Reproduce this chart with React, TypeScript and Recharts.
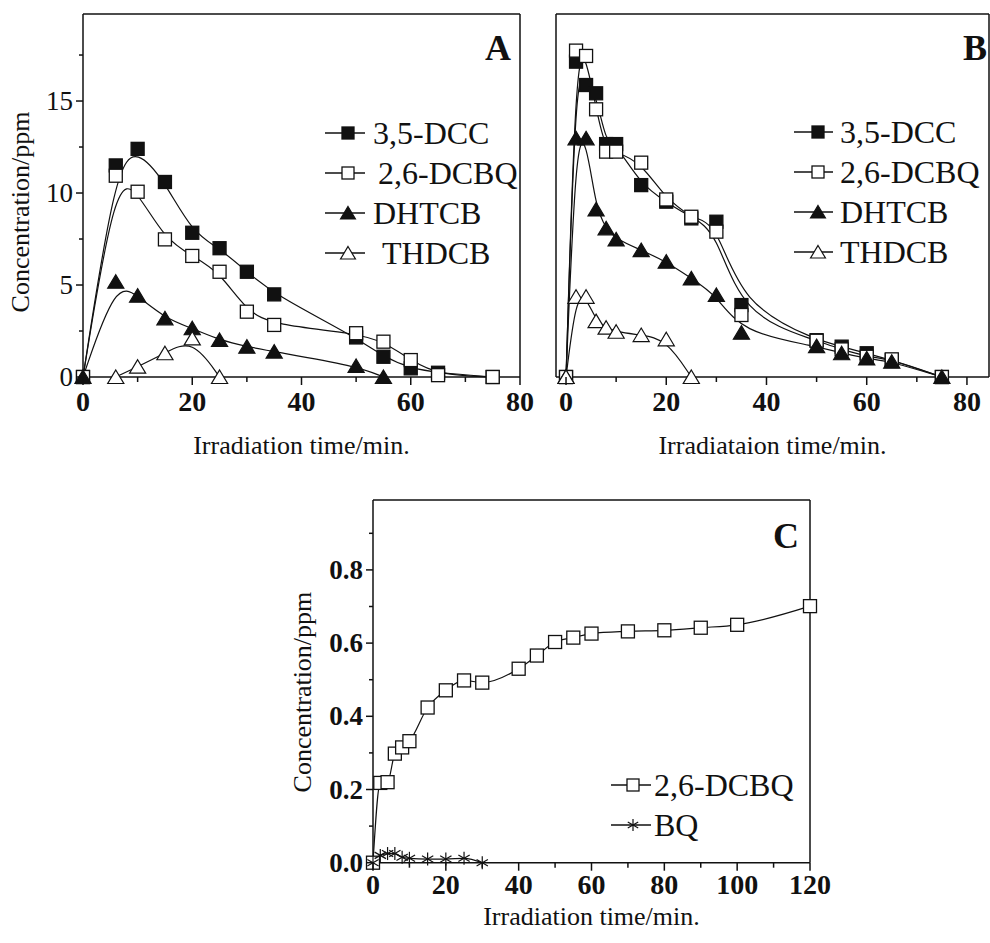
import React from "react";
import { LineChart, Line, XAxis, YAxis, ReferenceLine, Legend } from "recharts";

const FONT = '"Liberation Serif", "Times New Roman", serif';
const INK = "#111";

// panel A: irradiation of 3,5-DCC
const timesA = [0, 6, 10, 15, 20, 25, 30, 35, 50, 55, 60, 65, 75];
const dccA = [0, 11.5, 12.4, 10.6, 7.84, 7.0, 5.72, 4.49, 2.15, 1.1, 0.47, 0.23, 0];
const dcbqA = [0, 10.94, 10.07, 7.48, 6.58, 5.72, 3.55, 2.83, 2.38, 1.92, 0.92, 0.1, 0];
const dhtcbA = [0, 5.18, 4.42, 3.19, 2.65, 2.01, 1.65, 1.38, 0.6, 0, null, null, null];
const thdcbA = [null, 0, 0.56, 1.29, 2.1, 0, null, null, null, null, null, null, null];

// panel B
const timesB = [0, 2, 4, 6, 8, 10, 15, 20, 25, 30, 35, 50, 55, 60, 65, 75];
const dccB = [0, 17.14, 15.87, 15.42, 12.66, 12.66, 10.43, 9.53, 8.62, 8.44, 3.91, 2.0, 1.65, 1.29, 0.92, 0];
const dcbqB = [0, 17.74, 17.45, 14.55, 12.25, 12.25, 11.65, 9.65, 8.71, 7.9, 3.37, 1.97, 1.5, 1.1, 0.96, 0];
const dhtcbB = [0, 12.97, 12.97, 9.11, 8.08, 7.48, 6.9, 6.27, 5.36, 4.46, 2.41, 1.68, 1.29, 1.01, 0.83, 0];
const thdcbB = [0, 4.36, 4.36, 3.04, 2.68, 2.46, 2.28, 2.05, 0, null, null, null, null, null, null, null];

const namesAB = ["3,5-DCC", "2,6-DCBQ", "DHTCB", "THDCB"];
const xTicksAB = [0, 10, 20, 30, 40, 50, 60, 70, 80];
const yTicksA = [0, 2.5, 5, 7.5, 10, 12.5, 15, 17.5];

// panel C
const timesC = [0, 2, 4, 6, 8, 10, 15, 20, 25, 30, 40, 45, 50, 55, 60, 70, 80, 90, 100, 120];
const dcbqC = [0, 0.218, 0.22, 0.298, 0.315, 0.332, 0.424, 0.471, 0.498, 0.492, 0.53, 0.566, 0.603, 0.615, 0.626, 0.632, 0.635, 0.642, 0.65, 0.701];
const timesBQ = [0, 2, 4, 6, 8, 10, 15, 20, 25, 30];
const bqC = [0, 0.02, 0.025, 0.025, 0.015, 0.012, 0.01, 0.01, 0.012, 0];
const namesC = ["2,6-DCBQ", "BQ"];
const xTicksC = [0, 10, 20, 30, 40, 50, 60, 70, 80, 90, 100, 110, 120];
const yTicksC = [0, 0.1, 0.2, 0.3, 0.4, 0.5, 0.6, 0.7, 0.8, 0.9];

const pairs = (ts: number[], vs: (number | null)[]) =>
  ts.map((t, i) => ({ t, v: vs[i] })).filter((d) => d.v !== null && d.v !== undefined);

type Kind = "sqFill" | "sqOpen" | "triFill" | "triOpen" | "star";

function Marker({ kind, cx, cy, s = 13 }: { kind: Kind; cx?: number; cy?: number; s?: number }) {
  if (cx == null || cy == null) return null;
  const h = s / 2;
  if (kind === "sqFill" || kind === "sqOpen") {
    return (
      <rect x={cx - h} y={cy - h} width={s} height={s}
        fill={kind === "sqFill" ? INK : "#fff"} stroke={INK} strokeWidth={1.3} />
    );
  }
  if (kind === "triFill" || kind === "triOpen") {
    const w = s * 0.62;
    const pts = `${cx},${cy - h - 0.5} ${cx + w},${cy + h} ${cx - w},${cy + h}`;
    return <polygon points={pts} fill={kind === "triFill" ? INK : "#fff"} stroke={INK} strokeWidth={1.2} />;
  }
  const r = s * 0.5;
  const dx = r * 0.87;
  const dy = r * 0.5;
  return (
    <g stroke={INK} strokeWidth={1.2}>
      <line x1={cx} y1={cy - r} x2={cx} y2={cy + r} />
      <line x1={cx - dx} y1={cy - dy} x2={cx + dx} y2={cy + dy} />
      <line x1={cx - dx} y1={cy + dy} x2={cx + dx} y2={cy - dy} />
    </g>
  );
}

const dotOf = (kind: Kind) => (p: any) => <Marker key={`${kind}-${p.index}`} kind={kind} cx={p.cx} cy={p.cy} />;

const isMajor = (v: number, step: number) => Math.abs(v / step - Math.round(v / step)) < 1e-6;

const bottomTick = (step: number, fmt: (v: number) => string, size: number, base: number) => (p: any) => {
  const v = p.payload.value;
  const major = isMajor(v, step);
  return (
    <g>
      <line x1={p.x} y1={p.y} x2={p.x} y2={p.y + (major ? 8 : 5)} stroke={INK} strokeWidth={1.5} />
      {major && (
        <text x={p.x} y={p.y + base} textAnchor="middle" fontFamily={FONT} fontSize={size} fontWeight="bold" fill={INK}>
          {fmt(v)}
        </text>
      )}
    </g>
  );
};

const topTick = (p: any) => (
  <line x1={p.x} y1={p.y} x2={p.x} y2={p.y + 5} stroke={INK} strokeWidth={1.3} />
);

const leftTick = (step: number, fmt: (v: number) => string, bold: boolean, size: number) => (p: any) => {
  const v = p.payload.value;
  const major = isMajor(v, step);
  return (
    <g>
      <line x1={p.x} y1={p.y} x2={p.x - (major ? 7 : 4)} y2={p.y} stroke={INK} strokeWidth={1.5} />
      {major && (
        <text x={p.x - 10} y={p.y + size * 0.34} textAnchor="end" fontFamily={FONT} fontSize={size}
          fontWeight={bold ? "bold" : "normal"} fill={INK}>
          {fmt(v)}
        </text>
      )}
    </g>
  );
};

const xTitle = (text: string, dy: number) => (p: any) => {
  const vb = p.viewBox;
  return (
    <text x={vb.x + vb.width / 2} y={vb.y + dy} textAnchor="middle" fontFamily={FONT} fontSize={26} fill={INK}>
      {text}
    </text>
  );
};

const yTitle = (text: string, dx: number, dy: number) => (p: any) => {
  const vb = p.viewBox;
  const x = vb.x + dx;
  const y = vb.y + vb.height / 2 + dy;
  return (
    <text transform={`translate(${x},${y}) rotate(-90)`} textAnchor="middle" fontFamily={FONT} fontSize={26} fill={INK}>
      {text}
    </text>
  );
};

// legend rows follow the series order given in `names`
const legendOf = (
  names: string[], kinds: Record<string, Kind>, lineW: number, markAt: number, gap: number,
  indent: Record<string, number> = {},
) => () => (
  <div style={{ fontFamily: FONT, fontSize: 32, color: INK }}>
    {names.map((n) => (
      <div key={n} style={{ display: "flex", alignItems: "center", height: 40, lineHeight: "40px", whiteSpace: "nowrap" }}>
        <svg width={lineW} height={40}>
          <line x1={0} y1={20} x2={lineW} y2={20} stroke={INK} strokeWidth={1.3} />
          <Marker kind={kinds[n]} cx={markAt} cy={20} s={12} />
        </svg>
        <span style={{ marginLeft: gap + (indent[n] || 0) }}>{n}</span>
      </div>
    ))}
  </div>
);

const kindsAB: Record<string, Kind> = {
  "3,5-DCC": "sqFill",
  "2,6-DCBQ": "sqOpen",
  DHTCB: "triFill",
  THDCB: "triOpen",
};
const kindsC: Record<string, Kind> = { "2,6-DCBQ": "sqOpen", BQ: "star" };

const axisLine = { stroke: INK, strokeWidth: 1.5 };
const num = (v: number) => String(v);
const dec = (v: number) => v.toFixed(1);

function PanelAB({ which }: { which: "A" | "B" }) {
  const isA = which === "A";
  const ts = isA ? timesA : timesB;
  const series = isA ? [dccA, dcbqA, dhtcbA, thdcbA] : [dccB, dcbqB, dhtcbB, thdcbB];
  const xMax = isA ? 80 : 84.4;
  const xMin = isA ? 0 : -2;
  return (
    <LineChart width={isA ? 540 : 450} height={460}
      margin={isA ? { top: 13, right: 20, bottom: 82, left: 82 } : { top: 13, right: 1, bottom: 82, left: 15 }}>
      <XAxis xAxisId="b" type="number" dataKey="t" domain={[xMin, xMax]} ticks={xTicksAB} interval={0}
        height={1} tickSize={0} tickMargin={0} tickLine={false} axisLine={axisLine}
        tick={bottomTick(20, num, 28, 34)}
        label={{ content: xTitle(isA ? "Irradiation time/min." : "Irradiataion time/min.", 77) }} />
      <XAxis xAxisId="top" orientation="top" type="number" domain={[xMin, xMax]} ticks={xTicksAB} interval={0}
        allowDataOverflow height={1} tickSize={0} tickMargin={0} tickLine={false} axisLine={axisLine} tick={topTick} />
      <YAxis yAxisId="l" type="number" domain={[0, 19.73]} ticks={isA ? yTicksA : [0]} interval={0}
        width={1} tickSize={0} tickMargin={0} tickLine={false} axisLine={axisLine}
        tick={isA ? leftTick(5, num, false, 27) : false}
        label={isA ? { content: yTitle("Concentration/ppm", -53.5, 16.5) } : undefined} />
      <ReferenceLine xAxisId="b" yAxisId="l" x={xMax} stroke={INK} strokeWidth={1.5} />
      {series.map((vals, i) => (
        <Line key={namesAB[i]} xAxisId="b" yAxisId="l" name={namesAB[i]} data={pairs(ts, vals)} dataKey="v"
          type="basis" stroke={INK} strokeWidth={1.2} dot={dotOf(kindsAB[namesAB[i]])}
          activeDot={false} isAnimationActive={false} />
      ))}
      <Legend layout="vertical" align="center" verticalAlign="middle"
        content={isA
          ? legendOf(namesAB, kindsAB, 40, 23, 8, { "2,6-DCBQ": 5, THDCB: 9 })
          : legendOf(namesAB, kindsAB, 39, 24, 7)}
        wrapperStyle={isA ? { left: 325, top: 113, width: "auto", height: "auto" } : { left: 254, top: 112, width: "auto", height: "auto" }} />
    </LineChart>
  );
}

function PanelC() {
  return (
    <LineChart width={570} height={473} margin={{ top: 29, right: 30, bottom: 79.3, left: 102 }}>
      <XAxis xAxisId="b" type="number" dataKey="t" domain={[0, 120]} ticks={xTicksC} interval={0}
        height={1} tickSize={0} tickMargin={0} tickLine={false} axisLine={axisLine}
        tick={bottomTick(20, num, 28, 31)}
        label={{ content: xTitle("Irradiation time/min.", 62) }} />
      <XAxis xAxisId="top" orientation="top" type="number" domain={[0, 120]} ticks={xTicksC} interval={0}
        allowDataOverflow height={1} tickSize={0} tickMargin={0} tickLine={false} axisLine={axisLine} tick={topTick} />
      <YAxis yAxisId="l" type="number" domain={[0, 0.991]} ticks={yTicksC} interval={0}
        width={1} tickSize={0} tickMargin={0} tickLine={false} axisLine={axisLine}
        tick={leftTick(0.2, dec, true, 27)}
        label={{ content: yTitle("Concentration/ppm", -61, 10.7) }} />
      <ReferenceLine xAxisId="b" yAxisId="l" x={120} stroke={INK} strokeWidth={1.5} />
      <Line xAxisId="b" yAxisId="l" name="2,6-DCBQ" data={pairs(timesC, dcbqC)} dataKey="v" type="monotone"
        stroke={INK} strokeWidth={1.2} dot={dotOf("sqOpen")} activeDot={false} isAnimationActive={false} />
      <Line xAxisId="b" yAxisId="l" name="BQ" data={pairs(timesBQ, bqC)} dataKey="v" type="monotone"
        stroke={INK} strokeWidth={1.2} dot={dotOf("star")} activeDot={false} isAnimationActive={false} />
      <Legend layout="vertical" align="center" verticalAlign="middle"
        content={legendOf(namesC, kindsC, 40, 22, 3)}
        wrapperStyle={{ left: 341, top: 295, width: "auto", height: "auto" }} />
    </LineChart>
  );
}

const letter = (ch: string, cx: number, top: number) => (
  <div style={{
    position: "absolute", left: cx, top, transform: "translateX(-50%)",
    fontFamily: FONT, fontSize: 36, fontWeight: "bold", lineHeight: "36px", color: INK,
  }}>{ch}</div>
);

export default function App() {
  return (
    <div style={{ position: "absolute", left: 0, top: 0, width: 990, height: 943, background: "#fff", overflow: "hidden" }}>
      <div style={{ position: "absolute", left: 0, top: 0 }}><PanelAB which="A" /></div>
      <div style={{ position: "absolute", left: 540, top: 0 }}><PanelAB which="B" /></div>
      <div style={{ position: "absolute", left: 270, top: 470 }}><PanelC /></div>
      {letter("A", 498, 30)}
      {letter("B", 975, 30)}
      {letter("C", 786, 518)}
    </div>
  );
}
